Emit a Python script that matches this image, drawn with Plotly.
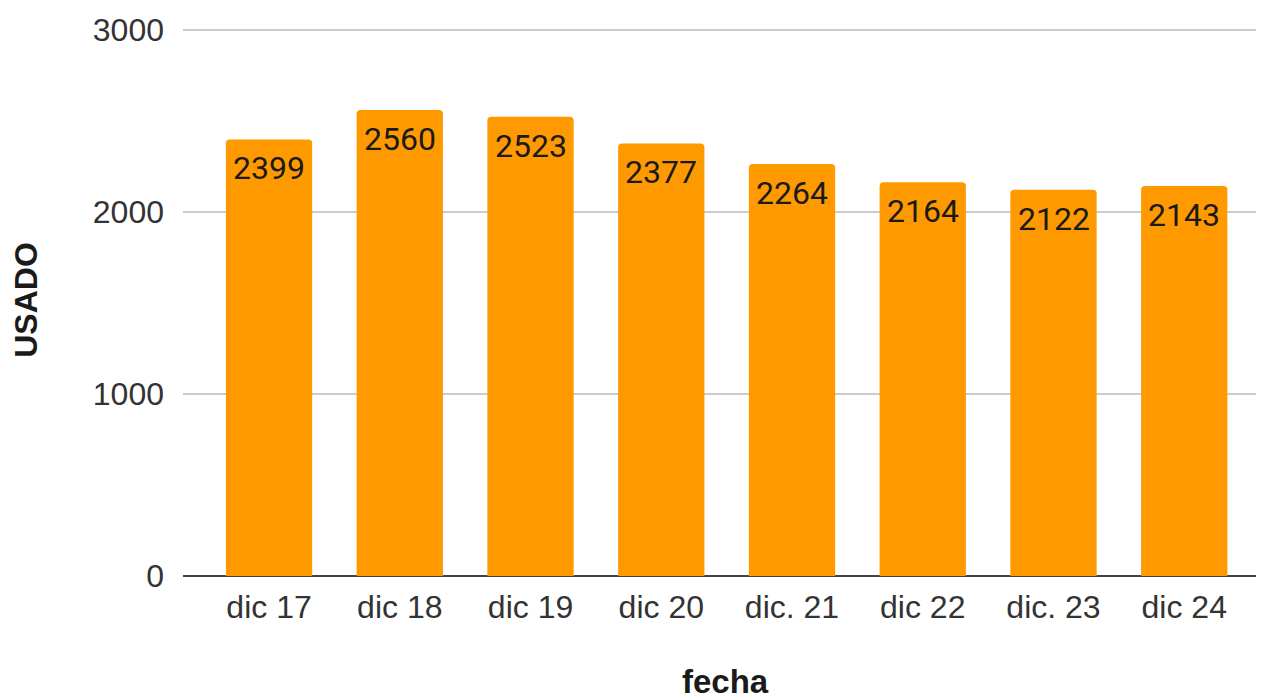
import plotly.graph_objects as go

categories = ["dic 17", "dic 18", "dic 19", "dic 20", "dic. 21", "dic 22", "dic. 23", "dic 24"]
values = [2399, 2560, 2523, 2377, 2264, 2164, 2122, 2143]
y_ticks = [0, 1000, 2000, 3000]

x_pos = list(range(len(categories)))

fig = go.Figure(
    go.Bar(
        x=x_pos,
        y=values,
        marker=dict(color="#FF9900", line=dict(width=0)),
        width=0.66,
        hoverinfo="skip",
    )
)

for xi, v in zip(x_pos, values):
    fig.add_annotation(
        x=xi, y=v, xref="x", yref="y",
        text=str(v), showarrow=False,
        yanchor="middle", yshift=-29,
        font=dict(family="Roboto", size=32, color="#1a1a1a"),
    )

# x-axis title
fig.add_annotation(
    x=0.5, y=0, xref="paper", yref="paper",
    text="<b>fecha</b>", showarrow=False,
    xanchor="center", yanchor="middle", yshift=-105, xshift=2,
    font=dict(family="Liberation Sans, Arial, sans-serif", size=33, color="#1a1a1a"),
)

fig.update_layout(
    width=1256,
    height=692,
    margin=dict(l=175, r=0, t=16, b=124, autoexpand=False),
    paper_bgcolor="white",
    plot_bgcolor="white",
    showlegend=False,
    barcornerradius=4,
    font=dict(family="Liberation Sans, Arial, sans-serif", color="#333333"),
    xaxis=dict(
        range=[-0.658, 7.61],
        tickmode="array",
        tickvals=x_pos,
        ticktext=categories,
        tickfont=dict(size=32, color="#333333"),
        showgrid=False,
        zeroline=False,
        showline=False,
        ticks="",
        ticklabelstandoff=9,
    ),
    yaxis=dict(
        range=[0, 3033],
        tickmode="array",
        tickvals=y_ticks,
        ticktext=[str(t) for t in y_ticks],
        tickfont=dict(size=32, color="#333333"),
        showgrid=True,
        gridcolor="#cccccc",
        gridwidth=2,
        zeroline=True,
        zerolinecolor="#444444",
        zerolinewidth=2,
        ticks="",
        ticklabelstandoff=18,
        title=dict(text="<b>USADO</b>", font=dict(size=32, color="#1a1a1a"), standoff=52),
    ),
)

fig.write_html("out.html")
